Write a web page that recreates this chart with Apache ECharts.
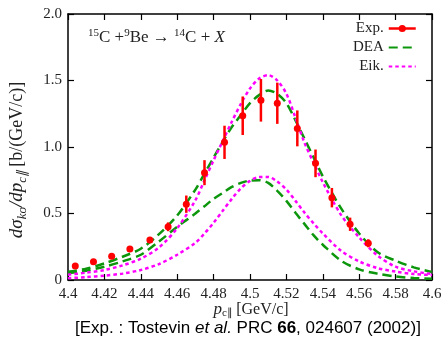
<!DOCTYPE html>
<html>
<head>
<meta charset="utf-8">
<script src="https://cdn.jsdelivr.net/npm/echarts@6/dist/echarts.min.js"></script>
<style>
  html, body { margin: 0; padding: 0; background: #fff; }
  #chart { width: 446px; height: 338px; }
</style>
</head>
<body>
<div id="chart"></div>
<script>
// Longitudinal momentum grid for the theory curves [GeV/c]
const pGrid = [4.40, 4.41, 4.42, 4.43, 4.44, 4.45, 4.46, 4.47, 4.475, 4.48, 4.485, 4.49, 4.495,
               4.50, 4.505, 4.51, 4.515, 4.52, 4.525, 4.53, 4.535, 4.54, 4.55, 4.56, 4.57,
               4.58, 4.59, 4.60];

// DEA cross sections [b/(GeV/c)], upper and lower curves
const deaHigh = [0.062, 0.085, 0.125, 0.175, 0.235, 0.345, 0.485, 0.68, 0.80, 0.92, 1.04, 1.15, 1.24,
                 1.33, 1.39, 1.425, 1.40, 1.33, 1.20, 1.06, 0.92, 0.78, 0.54, 0.35, 0.21,
                 0.145, 0.095, 0.06];
const deaLow  = [0.05, 0.07, 0.10, 0.14, 0.19, 0.29, 0.40, 0.50, 0.555, 0.61, 0.655, 0.70, 0.73,
                 0.748, 0.75, 0.73, 0.67, 0.595, 0.505, 0.42, 0.335, 0.265, 0.145, 0.08, 0.048,
                 0.027, 0.015, 0.01];

// Eikonal cross sections [b/(GeV/c)], upper and lower curves
const eikHigh = [0.04, 0.055, 0.075, 0.11, 0.16, 0.245, 0.39, 0.60, 0.75, 0.90, 1.045, 1.19, 1.325,
                 1.44, 1.515, 1.54, 1.50, 1.40, 1.22, 1.03, 0.88, 0.735, 0.49, 0.32, 0.185,
                 0.10, 0.065, 0.045];
const eikLow  = [0.013, 0.022, 0.033, 0.048, 0.075, 0.12, 0.19, 0.28, 0.35, 0.43, 0.52, 0.61, 0.69,
                 0.745, 0.775, 0.775, 0.74, 0.68, 0.595, 0.505, 0.425, 0.35, 0.22, 0.14, 0.09,
                 0.063, 0.045, 0.038];

// Measured distribution with uncertainties
const expP   = [4.404, 4.414, 4.424, 4.434, 4.445, 4.455, 4.465, 4.475, 4.486,
                4.496, 4.506, 4.515, 4.526, 4.536, 4.545, 4.555, 4.565];
const expVal = [0.105, 0.138, 0.178, 0.233, 0.30, 0.40, 0.57, 0.807, 1.035,
                1.235, 1.351, 1.329, 1.14, 0.877, 0.619, 0.419, 0.276];
const expErr = [0.01, 0.01, 0.01, 0.015, 0.02, 0.033, 0.065, 0.094, 0.125,
                0.145, 0.16, 0.155, 0.135, 0.104, 0.073, 0.05, 0.03];

// Axis ticks
const xMin = 4.40, xMax = 4.60, xStep = 0.02;
const yMin = 0, yMax = 2.0, yStep = 0.5;

const SERIF = 'Liberation Serif';
const SANS = 'Liberation Sans';
const INK = '#222';
const RED = '#ff0000', GREEN = '#0c960c', MAGENTA = '#ff00ff';

const pairs = (xs, ys) => xs.map((x, i) => [x, ys[i]]);

const chart = echarts.init(document.getElementById('chart'), null, { renderer: 'canvas' });

const tickStyle = { show: true, inside: true, length: 6, lineStyle: { color: '#000', width: 1.2 } };
const lineAxis = { show: true, onZero: false, lineStyle: { color: '#000', width: 1.5 } };

function curve(name, xs, ys, color, dash, width) {
  return {
    name: name, type: 'line', data: pairs(xs, ys), smooth: 0.3,
    showSymbol: false, symbol: 'none', silent: true, z: 3,
    itemStyle: { color: color },
    lineStyle: { color: color, width: width, type: dash, cap: 'butt' }
  };
}

const option = {
  animation: false,
  backgroundColor: '#fff',
  grid: { left: 68, right: 14, top: 14, bottom: 58, containLabel: false },
  xAxis: [{
    type: 'value', min: xMin, max: xMax, interval: xStep, position: 'bottom',
    axisLine: lineAxis, axisTick: tickStyle, splitLine: { show: false },
    axisLabel: {
      color: INK, fontFamily: SERIF, fontSize: 15, margin: 7,
      formatter: v => String(+v.toFixed(2))
    }
  }, {
    type: 'value', min: xMin, max: xMax, interval: xStep, position: 'top',
    axisLine: lineAxis, axisTick: tickStyle, splitLine: { show: false },
    axisLabel: { show: false }
  }],
  yAxis: [{
    type: 'value', min: yMin, max: yMax, interval: yStep, position: 'left',
    axisLine: lineAxis, axisTick: tickStyle, splitLine: { show: false },
    axisLabel: {
      color: INK, fontFamily: SERIF, fontSize: 15, margin: 6,
      formatter: v => v === 0 ? '0' : v.toFixed(1)
    }
  }, {
    type: 'value', min: yMin, max: yMax, interval: yStep, position: 'right',
    axisLine: lineAxis, axisTick: tickStyle, splitLine: { show: false },
    axisLabel: { show: false }
  }],
  legend: {
    orient: 'vertical', right: 24, top: 16, align: 'right',
    itemWidth: 27, itemHeight: 9, itemGap: 4,
    selectedMode: false,
    textStyle: { fontFamily: SERIF, fontSize: 15, color: INK, lineHeight: 15 },
    data: [
      { name: 'Exp.', lineStyle: { opacity: 1, width: 2.5, color: RED, type: 'solid' } },
      { name: 'DEA', itemStyle: { opacity: 0 } },
      { name: 'Eik.', itemStyle: { opacity: 0 } }
    ]
  },
  graphic: [{
    // reaction label
    type: 'text', left: 88, top: 28,
    style: {
      text: '{sup|15}{rm|C +}{sup|9}{rm|Be → }{sup|14}{rm|C + }{it|X}',
      rich: {
        rm: { fontFamily: SERIF, fontSize: 17, fill: INK, lineHeight: 20 },
        it: { fontFamily: SERIF, fontStyle: 'italic', fontSize: 17, fill: INK, lineHeight: 20 },
        sup: { fontFamily: SERIF, fontSize: 11, fill: INK, verticalAlign: 'top', lineHeight: 20 }
      }
    }
  }, {
    // horizontal axis title
    type: 'text', x: 251, y: 310,
    style: {
      text: '{it|p}{sub|c∥} {rm|[GeV/c]}',
      align: 'center', verticalAlign: 'middle',
      rich: {
        it: { fontFamily: SERIF, fontStyle: 'italic', fontSize: 17, fill: INK, lineHeight: 18 },
        sub: { fontFamily: SERIF, fontSize: 11, verticalAlign: 'bottom', fill: INK, lineHeight: 18 },
        rm: { fontFamily: SERIF, fontSize: 16, fill: INK, lineHeight: 18 }
      }
    }
  }, {
    // vertical axis title
    type: 'text', x: 17, y: 160, rotation: Math.PI / 2,
    style: {
      text: '{it|dσ}{sub|ko}{it|/dp}{sub|c∥} {rm|[b/(GeV/c)]}',
      align: 'center', verticalAlign: 'middle',
      rich: {
        it: { fontFamily: SERIF, fontStyle: 'italic', fontSize: 19, fill: INK, lineHeight: 24 },
        sub: { fontFamily: SERIF, fontStyle: 'italic', fontSize: 13, verticalAlign: 'bottom', fill: INK, lineHeight: 24 },
        rm: { fontFamily: SERIF, fontSize: 18, fill: INK, lineHeight: 24 }
      }
    }
  }, {
    // data reference
    type: 'text', left: 75, top: 320,
    style: {
      text: '{r|[Exp. : Tostevin }{i|et al.}{r| PRC }{b|66}{r|, 024607 (2002)]}',
      rich: {
        r: { fontFamily: SANS, fontSize: 17, fill: '#000', lineHeight: 18 },
        i: { fontFamily: SANS, fontStyle: 'italic', fontSize: 17, fill: '#000', lineHeight: 18 },
        b: { fontFamily: SANS, fontWeight: 'bold', fontSize: 17, fill: '#000', lineHeight: 18 }
      }
    }
  }],
  series: [
    {
      name: 'Exp.', type: 'line', data: pairs(expP, expVal), z: 6,
      symbol: 'circle', symbolSize: 7, showSymbol: true,
      itemStyle: { color: RED },
      lineStyle: { width: 0, opacity: 0, color: RED }
    },
    curve('DEA', pGrid, deaHigh, GREEN, [9, 5], 2.5),
    curve('DEA', pGrid, deaLow, GREEN, [9, 5], 2.5),
    curve('Eik.', pGrid, eikHigh, MAGENTA, [3.5, 3], 2.5),
    curve('Eik.', pGrid, eikLow, MAGENTA, [3.5, 3], 2.5),
    {
      name: 'Exp.', type: 'custom', z: 5,
      data: expP.map((p, i) => [p, expVal[i], expErr[i]]),
      encode: { x: 0, y: 1 },
      renderItem: (params, api) => {
        const p = api.value(0), v = api.value(1), e = api.value(2);
        const lo = api.coord([p, v - e]);
        const hi = api.coord([p, v + e]);
        return {
          type: 'line',
          shape: { x1: lo[0], y1: lo[1], x2: hi[0], y2: hi[1] },
          style: { stroke: RED, lineWidth: 2.5 }
        };
      }
    }
  ]
};

chart.setOption(option);
</script>
</body>
</html>
